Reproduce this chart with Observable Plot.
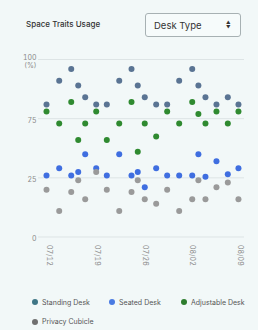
<!DOCTYPE html>
<html><head><meta charset="utf-8">
<script src="https://cdn.jsdelivr.net/npm/d3@7"></script>
<script src="https://cdn.jsdelivr.net/npm/@observablehq/plot@0.6"></script>
<style>
html,body{margin:0;padding:0;background:#f2f8f8;font-family:Inter,"Noto Sans",sans-serif;}
#wrap{position:relative;width:258px;height:330px;overflow:hidden;}
#title{position:absolute;left:26px;top:20px;font-size:8px;line-height:9px;font-weight:500;color:#333;white-space:nowrap;}
#dd{position:absolute;left:145px;top:13px;width:96px;height:24px;box-sizing:border-box;border:1px solid #a7b1b3;border-radius:3px;background:#f6fbfb;}
#dd span.t{position:absolute;left:8px;top:6px;font-size:9.5px;line-height:11px;color:#333;}
#dd span.a{position:absolute;left:80px;top:6px;font-size:4.5px;line-height:5px;color:#333;text-align:center;}
#chart{position:absolute;left:0;top:45px;}
.lg{position:absolute;font-size:7px;line-height:8px;color:#555;white-space:nowrap;}
.lg i{display:inline-block;width:6px;height:6px;border-radius:50%;margin-right:4px;vertical-align:-0.5px;}
</style></head>
<body><div id="wrap">
<div id="title">Space Traits Usage</div>
<div id="dd"><span class="t">Desk Type</span><span class="a">▲<br>▼</span></div>
<div id="chart"></div>
<div id="legend"></div>
</div>
<script>
// days after 07/12
const dayOffsets = [-0.47, 1.40, 3.17, 4.20, 5.23, 6.85, 8.41, 10.24, 12.05, 12.97, 14.0, 15.68, 17.3, 19.07, 20.99, 21.9, 22.94, 24.56, 26.23, 27.8];
const standing   = [81, 91, 96, 89, 84, 81, 81, 91, 96, 89, 84, 81, 81, 91, 96, 89, 84, 81, 84, 81];
const seated     = [27, 33, 27, 30, 45, 33, 27, 45, 27, 30, 21, 33, 27, 27, 27, 45, 26, 39, 28, 33];
const adjustable = [78, 71, 82, 57, 71, 78, 57, 71, 82, 47, 71, 60, 78, 71, 82, 77, 71, 78, 71, 78];
const privacy    = [20, 11, 19, 24, 16, 30, 20, 11, 19, 24, 16, 14, 20, 11, 16, 24, 16, 21, 23, 16];
const seriesNames = ["Standing Desk", "Seated Desk", "Adjustable Desk", "Privacy Cubicle"];
const dotColors    = ["#5a7493", "#3f6ee0", "#2f8a30", "#9a9a9a"];
const legendColors = ["#3f7686", "#4a7be2", "#2e7d2e", "#707070"];
const xTicks = [0, 7, 14, 21, 28];
const xTickLabels = ["07/12", "07/19", "07/26", "08/02", "08/09"];
const yTicks = [0, 25, 75, 100];
const yTickLabels = ["0", "25", "75", "100\n(%)"];

const seriesValues = [standing, seated, adjustable, privacy];
const rows = seriesNames.flatMap((name, s) =>
  seriesValues[s].map((v, i) => ({day: dayOffsets[i], value: v, type: name})));

// the reference axis spaces 0, 25, 75, 100 evenly (25–75 band compressed)
const squeeze = v => v <= 25 ? v : v <= 75 ? 25 + (v - 25) / 2 : 50 + (v - 75);

const chart = Plot.plot({
  width: 258, height: 225,
  marginLeft: 38, marginRight: 14, marginTop: 14, marginBottom: 33.5,
  style: {background: "transparent", fontFamily: "Inter, 'Noto Sans', sans-serif", fontSize: "7px", color: "#8a8a8a"},
  x: {type: "linear", domain: [-1.65, 28.69]},
  y: {type: "linear", transform: squeeze, domain: [0, 75]},
  color: {domain: seriesNames, range: dotColors},
  marks: [
    Plot.gridY(yTicks, {stroke: "#dde4e5", strokeOpacity: 1}),
    Plot.axisY(yTicks, {tickSize: 0, tickPadding: 2, label: null, dy: 1.5, lineHeight: 1.2,
      tickFormat: d => yTickLabels[yTicks.indexOf(d)]}),
    Plot.axisX(xTicks, {tickSize: 0, tickPadding: 8, tickRotate: 90, label: null,
      tickFormat: d => xTickLabels[xTicks.indexOf(d)]}),
    Plot.dot(rows, {x: "day", y: "value", fill: "type", r: 3})
  ]
});
document.getElementById("chart").appendChild(chart);

// legend
const legendPos = [[32, 298.5], [109, 298.5], [181, 298.5], [32, 318]];
const lg = document.getElementById("legend");
seriesNames.forEach((n, i) => {
  const d = document.createElement("div");
  d.className = "lg";
  d.style.left = legendPos[i][0] + "px";
  d.style.top = legendPos[i][1] + "px";
  d.innerHTML = `<i style="background:${legendColors[i]}"></i>${n}`;
  lg.appendChild(d);
});
</script>
</body></html>
